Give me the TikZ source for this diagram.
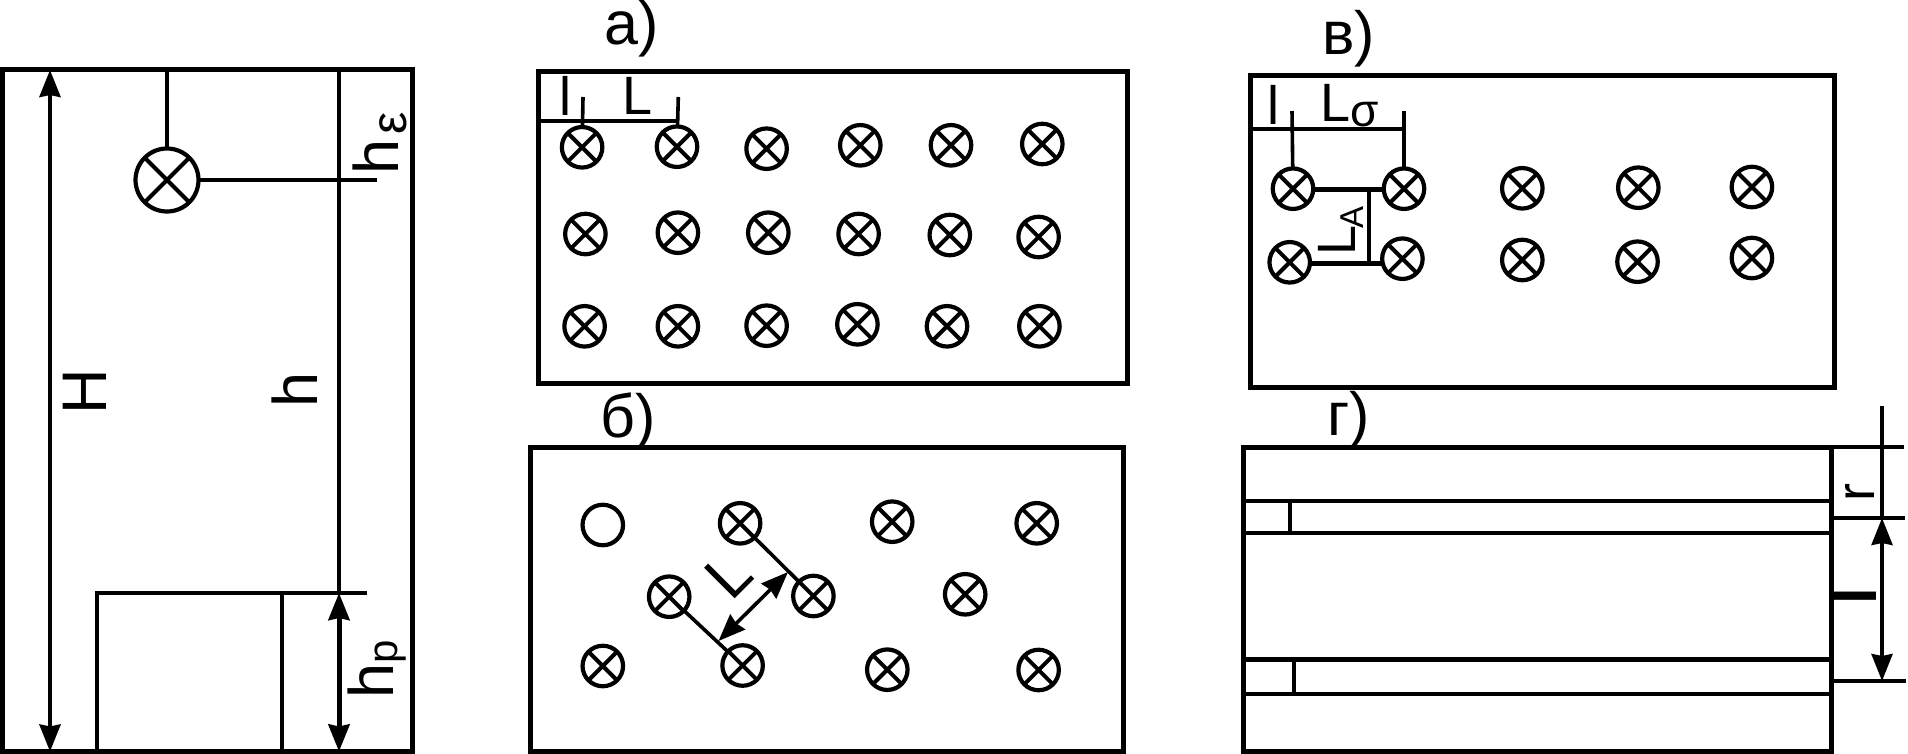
\documentclass[tikz,border=0pt]{standalone}
\usepackage{fontspec}
\setmainfont{Liberation Sans}
\usetikzlibrary{arrows.meta}
\tikzset{
  x=1pt,y=-1pt,
  lamp/.style={circle,draw,line width=4.2pt,minimum size=40.5pt,inner sep=0pt,outer sep=0pt},
  crossed/.style={path picture={\draw[line width=4pt]
     (path picture bounding box.north west)--(path picture bounding box.south east)
     (path picture bounding box.north east)--(path picture bounding box.south west);}},
  boxframe/.style={draw,line width=5pt,line join=miter},
  thinline/.style={line width=3.6pt},
  midline/.style={line width=4.6pt},
  twohead/.style={{Stealth[length=27pt,width=21pt,inset=2pt]}-{Stealth[length=27pt,width=21pt,inset=2pt]}},
  bigtext/.style={inner sep=0pt,font=\fontsize{63}{63}\selectfont},
  paneltag/.style={inner sep=0pt,anchor=base west,font=\fontsize{61}{61}\selectfont},
  dimtext/.style={inner sep=0pt,font=\fontsize{54}{54}\selectfont},
}
\begin{document}
\begin{tikzpicture}
\useasboundingbox (0,0) rectangle (1908,754);

% left panel
\draw[boxframe] (2.5,70) rectangle (412,751.5);
\coordinate (Ht) at (50,70);
\coordinate (Hb) at (50,751.5);
\draw[line width=4pt,twohead] (Ht) -- (Hb);
\node[lamp,crossed,minimum size=63pt] (main) at (167,180) {};
\coordinate (mt) at (167,70);
\draw[midline] (mt) -- (main);
\coordinate (me) at (377,180);
\draw[thinline] (main) -- (me);
\coordinate (ht) at (339,70);
\coordinate (hb) at (339,594);
\draw[midline] (ht) -- (hb);
\coordinate (ra) at (97,751.5);
\coordinate (rb) at (97,593);
\coordinate (rb2) at (95,593);
\coordinate (rc) at (367,593);
\draw[midline] (ra) -- (rb);
\draw[thinline] (rb2) -- (rc);
\coordinate (rd) at (282,593);
\coordinate (re) at (282,751.5);
\draw[midline] (rd) -- (re);
\coordinate (pt) at (339,593);
\coordinate (pb) at (339,751.5);
\draw[line width=5pt,twohead] (pt) -- (pb);
\node[bigtext,rotate=90,anchor=base] (lH) at (106,392) {H};
\node[bigtext,rotate=90,anchor=base] (lh) at (317,390) {h};
\node[bigtext,rotate=90,anchor=base west] (lhe) at (398,175) {h\hspace{5pt}\raisebox{-8pt}{\fontsize{50}{50}\selectfont ε}};
\node[bigtext,rotate=90,anchor=base west] (lhp) at (393,699) {h\raisebox{-4pt}{\fontsize{42}{42}\selectfont p}};

% panel a
\node[paneltag] (ca) at (604,45) {а)};
\draw[boxframe] (538,72) rectangle (1127,383);
\foreach \n/\x/\y in {
 a1/582.1/147.3,a2/677/146.7,a3/766.6/148.7,a4/860.3/145.3,a5/951/145.3,a6/1042.3/144,
 a7/585.4/234,a8/677.9/232.7,a9/768.3/232.7,a10/858.6/234,a11/949.8/235,a12/1038.6/237,
 a13/584.6/326.3,a14/677.9/326.3,a15/766.6/325.7,a16/857.4/324.3,a17/947/326.3,a18/1039.4/326.3}
 {\node[lamp,crossed] (\n) at (\x,\y) {};}
\coordinate (aw) at (538,121);
\coordinate (ae) at (678.3,121);
\draw[midline] (aw) -- (ae);
\coordinate (au1) at (583,97);
\coordinate (au2) at (678.3,97);
\draw[thinline] (au1) -- (a1);
\draw[thinline] (au2) -- (a2);
\node[dimtext,anchor=base] (al) at (565,116) {l};
\node[dimtext,anchor=base west] (aL) at (622,115) {L};

% panel b
\node[paneltag] (cb) at (600,437) {б)};
\draw[boxframe] (530,447) rectangle (1123,751.5);
\node[lamp] (b1) at (602.8,525) {};
\foreach \n/\x/\y in {
 b2/740.1/523.3,b3/892.2/521.7,b4/1036.7/523.3,
 b5/669.2/596.7,b6/813.4/596,b7/965.2/594.3,
 b8/602.8/666,b9/742.6/665.5,b10/887.3/669.7,b11/1038.6/670}
 {\node[lamp,crossed] (\n) at (\x,\y) {};}
\draw[thinline] (b2) -- (b6);
\draw[thinline] (b5) -- (b9);
\coordinate (ba) at (788,572);
\coordinate (bb) at (718.5,641);
\draw[line width=3.6pt,twohead] (ba) -- (bb);
\node[bigtext,rotate=45,anchor=base west] (bL) at (731,603) {L};

% panel v
\node[paneltag] (cv) at (1322,55) {в)};
\draw[boxframe] (1250,76) rectangle (1834.4,387);
\foreach \n/\x/\y in {
 v1/1293/188.7,v2/1404/188.7,v3/1522.3/188.3,v4/1638.3/187.7,v5/1751.9/187,
 v6/1289.7/262.3,v7/1402.4/258.7,v8/1522.3/260,v9/1637.5/261.7,v10/1751.9/258}
 {\node[lamp,crossed] (\n) at (\x,\y) {};}
\coordinate (vw) at (1250,129);
\coordinate (ve) at (1404,129);
\draw[thinline] (vw) -- (ve);
\coordinate (vu1) at (1292,111);
\coordinate (vu2) at (1404,111);
\draw[thinline] (vu1) -- (v1);
\draw[thinline] (vu2) -- (v2);
\coordinate (vy1) at (0,190);
\coordinate (vy2) at (0,263);
\draw[line width=5pt] (v1.east |- vy1) -- (v2.west |- vy1);
\draw[line width=5pt] (v6.east |- vy2) -- (v7.west |- vy2);
\coordinate (vm1) at (1369,190);
\coordinate (vm2) at (1369,263);
\draw[thinline] (vm1) -- (vm2);
\node[dimtext,anchor=base] (vl) at (1273,125) {l};
\node[dimtext,anchor=base west] (vL) at (1320,122) {L\raisebox{-5pt}{\fontsize{46}{46}\selectfont σ}};
\node[dimtext,rotate=90,anchor=base west] (vLA) at (1355.5,255.5) {L\hspace{-3pt}\raisebox{-8pt}{\fontsize{33}{33}\selectfont A}};

% panel g
\node[paneltag] (cg) at (1327,435) {г)};
\draw[boxframe] (1243,447) rectangle (1831,751.5);
\coordinate (g1w) at (1243,501); \coordinate (g1e) at (1831,501);
\coordinate (g2w) at (1243,533); \coordinate (g2e) at (1831,533);
\coordinate (g3w) at (1243,659); \coordinate (g3e) at (1831,659);
\coordinate (g4w) at (1243,694); \coordinate (g4e) at (1831,694);
\draw[midline] (g1w) -- (g1e);
\draw[midline] (g2w) -- (g2e);
\draw[line width=5pt] (g3w) -- (g3e);
\draw[midline] (g4w) -- (g4e);
\coordinate (gv1) at (1290,501); \coordinate (gv2) at (1290,533);
\coordinate (gv3) at (1294,659); \coordinate (gv4) at (1294,694);
\draw[midline] (gv1) -- (gv2);
\draw[midline] (gv3) -- (gv4);
\coordinate (ge1a) at (1831,447); \coordinate (ge1b) at (1904,447);
\coordinate (ge2a) at (1831,518); \coordinate (ge2b) at (1905,518);
\coordinate (ge3a) at (1831,681); \coordinate (ge3b) at (1906,681);
\draw[line width=4pt] (ge1a) -- (ge1b);
\draw[midline] (ge2a) -- (ge2b);
\draw[thinline] (ge3a) -- (ge3b);
\coordinate (gt) at (1882,406);
\coordinate (gm) at (1882,518);
\coordinate (gb) at (1882,681);
\draw[thinline] (gt) -- (gm);
\draw[thinline,twohead] (gm) -- (gb);
\node[dimtext,rotate=90,anchor=base west] (gr) at (1874,502) {r};
\node[inner sep=0pt,rotate=90,anchor=base,font=\fontsize{60}{60}\selectfont\bfseries] (gl) at (1876,596.5) {l};
\end{tikzpicture}
\end{document}
